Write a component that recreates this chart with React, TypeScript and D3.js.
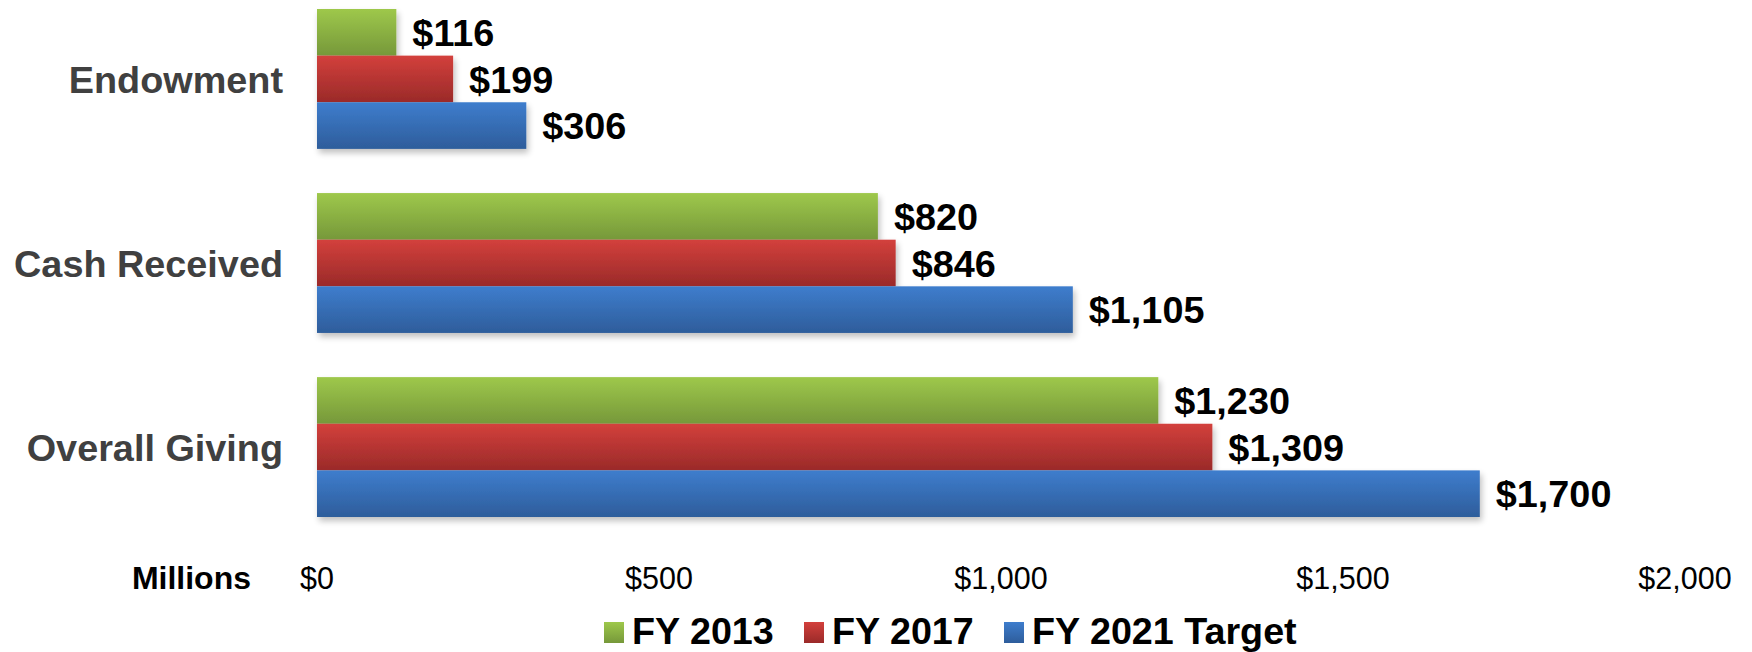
import React, { useEffect } from "react";
import * as d3 from "d3";

const categories = ["Endowment", "Cash Received", "Overall Giving"];
const seriesNames = ["FY 2013", "FY 2017", "FY 2021 Target"];
const fy2013 = [116, 820, 1230];
const fy2017 = [199, 846, 1309];
const fy2021 = [306, 1105, 1700];
const tickValues = [0, 500, 1000, 1500, 2000];

const colorsTop = ["#9ec84b", "#d3403c", "#3e7dcd"];
const colorsBottom = ["#76983a", "#9a2a29", "#2e5d9b"];

const W = 1752;
const H = 652;

export default function App() {
  useEffect(() => {
    document.body.style.margin = "0";
  }, []);

  const series = [fy2013, fy2017, fy2021];
  const x = d3.scaleLinear().domain([0, 2000]).range([317, 1685]);
  const y0 = d3.scaleBand<string>().domain(categories).range([9, 517]).paddingInner(0.24).paddingOuter(0);
  const y1 = d3.scaleBand<string>().domain(seriesNames).range([0, y0.bandwidth()]).padding(0);
  const fmt = d3.format(",");

  const legendX = [604, 804, 1004];

  return (
    <svg width={W} height={H} style={{ display: "block", fontFamily: "'Liberation Sans', Arial, sans-serif" }}>
      <defs>
        {seriesNames.map((s, i) => (
          <linearGradient key={s} id={`g${i}`} x1="0" y1="0" x2="0" y2="1">
            <stop offset="0" stopColor={colorsTop[i]} />
            <stop offset="1" stopColor={colorsBottom[i]} />
          </linearGradient>
        ))}
        <filter id="shadow" x="-5%" y="-20%" width="110%" height="160%">
          <feGaussianBlur in="SourceAlpha" stdDeviation="3" />
          <feOffset dx="2" dy="4" result="b" />
          <feComponentTransfer>
            <feFuncA type="linear" slope="0.25" />
          </feComponentTransfer>
          <feMerge>
            <feMergeNode />
            <feMergeNode in="SourceGraphic" />
          </feMerge>
        </filter>
      </defs>

      {categories.map((c, ci) => (
        <g key={c}>
          <g filter="url(#shadow)">
            {seriesNames.map((s, si) => (
              <rect
                key={s}
                x={x(0)}
                y={(y0(c) as number) + (y1(s) as number)}
                width={x(series[si][ci]) - x(0)}
                height={y1.bandwidth()}
                fill={`url(#g${si})`}
              />
            ))}
          </g>
          {seriesNames.map((s, si) => (
            <text
              key={s}
              x={x(series[si][ci]) + 16}
              y={(y0(c) as number) + (y1(s) as number) + y1.bandwidth() / 2}
              dy="0.36em"
              fontSize={37.8}
              fontWeight="bold"
              fill="#000"
            >
              ${fmt(series[si][ci])}
            </text>
          ))}
          <text
            x={283}
            y={(y0(c) as number) + y0.bandwidth() / 2}
            dy="0.36em"
            textAnchor="end"
            fontSize={37.8}
            fontWeight="bold"
            fill="#404040"
          >
            {c}
          </text>
        </g>
      ))}

      {tickValues.map((t) => (
        <text key={t} x={x(t)} y={589} textAnchor="middle" fontSize={30.5} fill="#000">
          ${fmt(t)}
        </text>
      ))}
      <text x={251} y={589} textAnchor="end" fontSize={32} fontWeight="bold" fill="#000">
        Millions
      </text>

      {seriesNames.map((s, i) => (
        <g key={s}>
          <rect x={legendX[i]} y={622} width={20} height={21} fill={`url(#g${i})`} />
          <text x={legendX[i] + 28} y={644} fontSize={37.7} fontWeight="bold" fill="#000">
            {s}
          </text>
        </g>
      ))}
    </svg>
  );
}
